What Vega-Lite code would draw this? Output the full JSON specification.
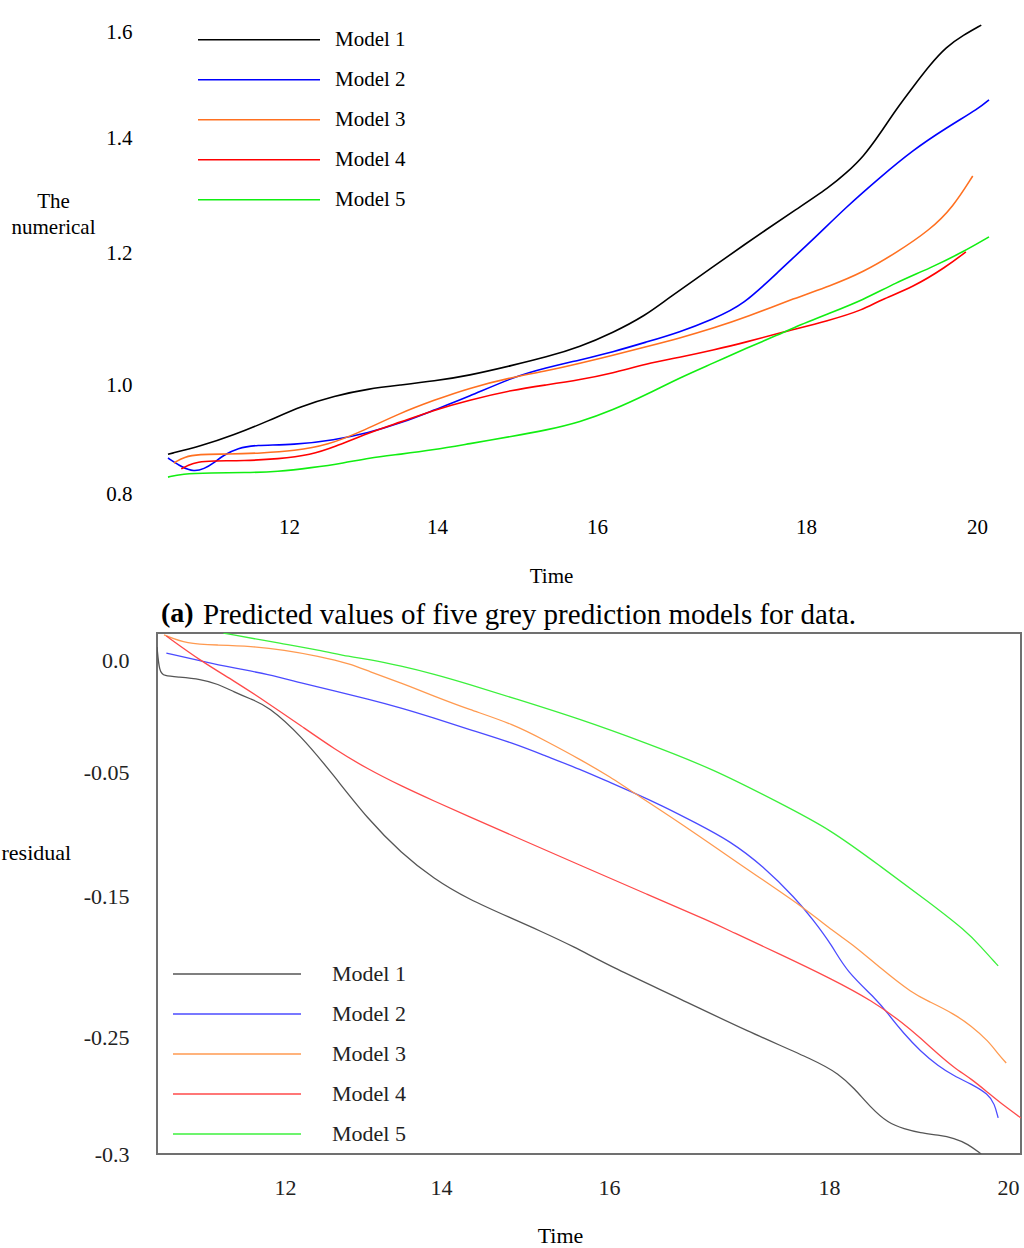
{
  "$schema": "https://vega.github.io/schema/vega-lite/v6.json",
  "background": "white",
  "padding": {"left": 0, "top": 7, "right": 0, "bottom": 0},
  "spacing": -28,
  "resolve": {"scale": {"color": "independent"}, "legend": {"color": "independent"}},
  "config": {
    "view": {"stroke": null},
    "font": "Liberation Serif",
    "axis": {"labelFont": "Liberation Serif", "titleFont": "Liberation Serif", "labelColor": "#000", "titleColor": "#000", "titleFontWeight": "normal", "labelFontSize": 21, "titleFontSize": 21, "grid": false, "domain": false, "ticks": false, "tickSize": 0},
    "legend": {"labelFont": "Liberation Serif", "labelColor": "#000"},
    "title": {"font": "Liberation Serif", "color": "#000"}
  },
  "datasets": {
    "a": [
      {"m":"Model 1","t":10.36,"v":0.873},{"m":"Model 1","t":10.81,"v":0.888},{"m":"Model 1","t":11.25,"v":0.908},{"m":"Model 1","t":11.72,"v":0.934},{"m":"Model 1","t":12.16,"v":0.961},{"m":"Model 1","t":12.61,"v":0.980},{"m":"Model 1","t":13.07,"v":0.993},{"m":"Model 1","t":13.51,"v":1.000},{"m":"Model 1","t":13.96,"v":1.006},{"m":"Model 1","t":14.39,"v":1.014},{"m":"Model 1","t":14.95,"v":1.030},{"m":"Model 1","t":15.36,"v":1.042},{"m":"Model 1","t":15.79,"v":1.058},{"m":"Model 1","t":16.15,"v":1.079},{"m":"Model 1","t":16.47,"v":1.106},{"m":"Model 1","t":16.66,"v":1.129},{"m":"Model 1","t":17.11,"v":1.179},{"m":"Model 1","t":17.43,"v":1.217},{"m":"Model 1","t":17.59,"v":1.237},{"m":"Model 1","t":17.90,"v":1.275},{"m":"Model 1","t":18.28,"v":1.315},{"m":"Model 1","t":18.47,"v":1.339},{"m":"Model 1","t":18.67,"v":1.367},{"m":"Model 1","t":18.87,"v":1.409},{"m":"Model 1","t":19.05,"v":1.453},{"m":"Model 1","t":19.25,"v":1.496},{"m":"Model 1","t":19.45,"v":1.538},{"m":"Model 1","t":19.64,"v":1.572},{"m":"Model 1","t":19.84,"v":1.594},{"m":"Model 1","t":20.05,"v":1.613},
      {"m":"Model 2","t":10.36,"v":0.866},{"m":"Model 2","t":10.55,"v":0.849},{"m":"Model 2","t":10.71,"v":0.841},{"m":"Model 2","t":10.85,"v":0.846},{"m":"Model 2","t":10.98,"v":0.857},{"m":"Model 2","t":11.12,"v":0.872},{"m":"Model 2","t":11.31,"v":0.884},{"m":"Model 2","t":11.53,"v":0.890},{"m":"Model 2","t":12.07,"v":0.890},{"m":"Model 2","t":12.61,"v":0.899},{"m":"Model 2","t":13.07,"v":0.912},{"m":"Model 2","t":13.51,"v":0.930},{"m":"Model 2","t":13.96,"v":0.954},{"m":"Model 2","t":14.39,"v":0.978},{"m":"Model 2","t":14.95,"v":1.012},{"m":"Model 2","t":15.36,"v":1.026},{"m":"Model 2","t":15.79,"v":1.038},{"m":"Model 2","t":16.15,"v":1.050},{"m":"Model 2","t":16.47,"v":1.065},{"m":"Model 2","t":16.79,"v":1.080},{"m":"Model 2","t":17.11,"v":1.100},{"m":"Model 2","t":17.40,"v":1.121},{"m":"Model 2","t":17.75,"v":1.174},{"m":"Model 2","t":18.08,"v":1.223},{"m":"Model 2","t":18.47,"v":1.280},{"m":"Model 2","t":18.87,"v":1.332},{"m":"Model 2","t":19.25,"v":1.379},{"m":"Model 2","t":19.64,"v":1.419},{"m":"Model 2","t":20.03,"v":1.457},{"m":"Model 2","t":20.14,"v":1.472},
      {"m":"Model 3","t":10.44,"v":0.857},{"m":"Model 3","t":10.58,"v":0.868},{"m":"Model 3","t":10.77,"v":0.873},{"m":"Model 3","t":11.17,"v":0.873},{"m":"Model 3","t":11.62,"v":0.875},{"m":"Model 3","t":12.07,"v":0.879},{"m":"Model 3","t":12.53,"v":0.890},{"m":"Model 3","t":12.97,"v":0.914},{"m":"Model 3","t":13.51,"v":0.949},{"m":"Model 3","t":13.96,"v":0.972},{"m":"Model 3","t":14.39,"v":0.994},{"m":"Model 3","t":14.95,"v":1.012},{"m":"Model 3","t":15.36,"v":1.021},{"m":"Model 3","t":15.79,"v":1.033},{"m":"Model 3","t":16.15,"v":1.045},{"m":"Model 3","t":16.47,"v":1.058},{"m":"Model 3","t":16.79,"v":1.071},{"m":"Model 3","t":17.11,"v":1.086},{"m":"Model 3","t":17.43,"v":1.103},{"m":"Model 3","t":17.90,"v":1.132},{"m":"Model 3","t":18.28,"v":1.150},{"m":"Model 3","t":18.67,"v":1.171},{"m":"Model 3","t":19.05,"v":1.200},{"m":"Model 3","t":19.45,"v":1.240},{"m":"Model 3","t":19.72,"v":1.280},{"m":"Model 3","t":19.95,"v":1.334},
      {"m":"Model 4","t":10.54,"v":0.846},{"m":"Model 4","t":10.63,"v":0.853},{"m":"Model 4","t":10.77,"v":0.859},{"m":"Model 4","t":10.94,"v":0.861},{"m":"Model 4","t":11.39,"v":0.861},{"m":"Model 4","t":11.85,"v":0.864},{"m":"Model 4","t":12.30,"v":0.872},{"m":"Model 4","t":12.61,"v":0.886},{"m":"Model 4","t":13.07,"v":0.912},{"m":"Model 4","t":13.51,"v":0.932},{"m":"Model 4","t":13.96,"v":0.954},{"m":"Model 4","t":14.39,"v":0.972},{"m":"Model 4","t":14.95,"v":0.991},{"m":"Model 4","t":15.36,"v":1.000},{"m":"Model 4","t":15.79,"v":1.008},{"m":"Model 4","t":16.15,"v":1.018},{"m":"Model 4","t":16.47,"v":1.032},{"m":"Model 4","t":16.79,"v":1.042},{"m":"Model 4","t":17.11,"v":1.053},{"m":"Model 4","t":17.43,"v":1.065},{"m":"Model 4","t":17.75,"v":1.079},{"m":"Model 4","t":18.28,"v":1.098},{"m":"Model 4","t":18.67,"v":1.114},{"m":"Model 4","t":18.87,"v":1.129},{"m":"Model 4","t":19.25,"v":1.148},{"m":"Model 4","t":19.64,"v":1.179},{"m":"Model 4","t":19.87,"v":1.202},
      {"m":"Model 5","t":10.36,"v":0.831},{"m":"Model 5","t":10.54,"v":0.837},{"m":"Model 5","t":10.94,"v":0.839},{"m":"Model 5","t":11.39,"v":0.839},{"m":"Model 5","t":11.85,"v":0.841},{"m":"Model 5","t":12.30,"v":0.848},{"m":"Model 5","t":12.75,"v":0.857},{"m":"Model 5","t":13.07,"v":0.866},{"m":"Model 5","t":13.51,"v":0.873},{"m":"Model 5","t":13.96,"v":0.881},{"m":"Model 5","t":14.39,"v":0.892},{"m":"Model 5","t":14.95,"v":0.906},{"m":"Model 5","t":15.36,"v":0.917},{"m":"Model 5","t":15.79,"v":0.932},{"m":"Model 5","t":16.15,"v":0.954},{"m":"Model 5","t":16.47,"v":0.982},{"m":"Model 5","t":16.79,"v":1.011},{"m":"Model 5","t":17.11,"v":1.033},{"m":"Model 5","t":17.43,"v":1.056},{"m":"Model 5","t":17.75,"v":1.077},{"m":"Model 5","t":17.85,"v":1.085},{"m":"Model 5","t":18.28,"v":1.109},{"m":"Model 5","t":18.67,"v":1.129},{"m":"Model 5","t":19.05,"v":1.155},{"m":"Model 5","t":19.45,"v":1.177},{"m":"Model 5","t":19.84,"v":1.202},{"m":"Model 5","t":20.14,"v":1.228}
    ],
    "b": [
      {"m":"Model 1","t":10.36,"v":0.0058},{"m":"Model 1","t":10.39,"v":-0.0054},{"m":"Model 1","t":10.45,"v":-0.0071},{"m":"Model 1","t":10.63,"v":-0.0076},{"m":"Model 1","t":10.92,"v":-0.0085},{"m":"Model 1","t":11.14,"v":-0.0107},{"m":"Model 1","t":11.35,"v":-0.0143},{"m":"Model 1","t":11.56,"v":-0.0174},{"m":"Model 1","t":11.78,"v":-0.0205},{"m":"Model 1","t":12.21,"v":-0.0339},{"m":"Model 1","t":12.63,"v":-0.0532},{"m":"Model 1","t":13.06,"v":-0.0879},{"m":"Model 1","t":13.49,"v":-0.1153},{"m":"Model 1","t":13.91,"v":-0.1363},{"m":"Model 1","t":14.32,"v":-0.1521},{"m":"Model 1","t":14.86,"v":-0.1663},{"m":"Model 1","t":15.18,"v":-0.1748},{"m":"Model 1","t":15.57,"v":-0.1855},{"m":"Model 1","t":16.04,"v":-0.2010},{"m":"Model 1","t":16.65,"v":-0.2230},{"m":"Model 1","t":17.25,"v":-0.2457},{"m":"Model 1","t":17.89,"v":-0.2603},{"m":"Model 1","t":18.11,"v":-0.2658},{"m":"Model 1","t":18.28,"v":-0.2718},{"m":"Model 1","t":18.47,"v":-0.2803},{"m":"Model 1","t":18.66,"v":-0.2868},{"m":"Model 1","t":18.84,"v":-0.2893},{"m":"Model 1","t":19.02,"v":-0.2910},{"m":"Model 1","t":19.22,"v":-0.2919},{"m":"Model 1","t":19.40,"v":-0.2932},{"m":"Model 1","t":19.55,"v":-0.2957},{"m":"Model 1","t":19.70,"v":-0.3000},
      {"m":"Model 2","t":10.48,"v":0.0031},{"m":"Model 2","t":10.92,"v":-0.0004},{"m":"Model 2","t":11.35,"v":-0.0036},{"m":"Model 2","t":11.78,"v":-0.0063},{"m":"Model 2","t":12.21,"v":-0.0103},{"m":"Model 2","t":12.63,"v":-0.0138},{"m":"Model 2","t":13.06,"v":-0.0174},{"m":"Model 2","t":13.49,"v":-0.0214},{"m":"Model 2","t":13.91,"v":-0.0259},{"m":"Model 2","t":14.32,"v":-0.0308},{"m":"Model 2","t":14.86,"v":-0.0371},{"m":"Model 2","t":15.25,"v":-0.0429},{"m":"Model 2","t":15.65,"v":-0.0487},{"m":"Model 2","t":16.04,"v":-0.0597},{"m":"Model 2","t":16.19,"v":-0.0653},{"m":"Model 2","t":16.49,"v":-0.0774},{"m":"Model 2","t":16.79,"v":-0.0911},{"m":"Model 2","t":17.10,"v":-0.1056},{"m":"Model 2","t":17.40,"v":-0.1258},{"m":"Model 2","t":17.70,"v":-0.1521},{"m":"Model 2","t":17.85,"v":-0.1663},{"m":"Model 2","t":18.04,"v":-0.1855},{"m":"Model 2","t":18.19,"v":-0.2032},{"m":"Model 2","t":18.55,"v":-0.2245},{"m":"Model 2","t":18.66,"v":-0.2337},{"m":"Model 2","t":18.84,"v":-0.2479},{"m":"Model 2","t":19.02,"v":-0.2560},{"m":"Model 2","t":19.22,"v":-0.2624},{"m":"Model 2","t":19.40,"v":-0.2667},{"m":"Model 2","t":19.59,"v":-0.2701},{"m":"Model 2","t":19.78,"v":-0.2744},{"m":"Model 2","t":19.85,"v":-0.2786},{"m":"Model 2","t":19.89,"v":-0.2846},
      {"m":"Model 3","t":10.45,"v":0.0112},{"m":"Model 3","t":10.74,"v":0.0071},{"m":"Model 3","t":11.14,"v":0.0067},{"m":"Model 3","t":11.56,"v":0.0062},{"m":"Model 3","t":11.99,"v":0.0045},{"m":"Model 3","t":12.42,"v":0.0018},{"m":"Model 3","t":12.85,"v":-0.0018},{"m":"Model 3","t":13.06,"v":-0.0049},{"m":"Model 3","t":13.49,"v":-0.0103},{"m":"Model 3","t":13.91,"v":-0.0161},{"m":"Model 3","t":14.32,"v":-0.0219},{"m":"Model 3","t":14.86,"v":-0.0286},{"m":"Model 3","t":15.25,"v":-0.0362},{"m":"Model 3","t":15.65,"v":-0.0442},{"m":"Model 3","t":16.04,"v":-0.0556},{"m":"Model 3","t":16.13,"v":-0.0613},{"m":"Model 3","t":16.65,"v":-0.0911},{"m":"Model 3","t":17.25,"v":-0.1282},{"m":"Model 3","t":17.79,"v":-0.1592},{"m":"Model 3","t":18.04,"v":-0.1748},{"m":"Model 3","t":18.29,"v":-0.1855},{"m":"Model 3","t":18.57,"v":-0.2010},{"m":"Model 3","t":18.94,"v":-0.2195},{"m":"Model 3","t":19.11,"v":-0.2245},{"m":"Model 3","t":19.40,"v":-0.2337},{"m":"Model 3","t":19.59,"v":-0.2422},{"m":"Model 3","t":19.78,"v":-0.2517},{"m":"Model 3","t":19.89,"v":-0.2573},{"m":"Model 3","t":19.98,"v":-0.2611},
      {"m":"Model 4","t":10.48,"v":0.0107},{"m":"Model 4","t":10.92,"v":-0.0004},{"m":"Model 4","t":11.35,"v":-0.0094},{"m":"Model 4","t":11.78,"v":-0.0192},{"m":"Model 4","t":12.21,"v":-0.0295},{"m":"Model 4","t":12.63,"v":-0.0397},{"m":"Model 4","t":13.06,"v":-0.0487},{"m":"Model 4","t":13.49,"v":-0.0613},{"m":"Model 4","t":13.91,"v":-0.0734},{"m":"Model 4","t":14.32,"v":-0.0855},{"m":"Model 4","t":14.86,"v":-0.1016},{"m":"Model 4","t":15.65,"v":-0.1250},{"m":"Model 4","t":16.34,"v":-0.1484},{"m":"Model 4","t":16.95,"v":-0.1691},{"m":"Model 4","t":17.10,"v":-0.1748},{"m":"Model 4","t":17.55,"v":-0.1911},{"m":"Model 4","t":18.01,"v":-0.2082},{"m":"Model 4","t":18.49,"v":-0.2245},{"m":"Model 4","t":18.84,"v":-0.2408},{"m":"Model 4","t":19.02,"v":-0.2504},{"m":"Model 4","t":19.22,"v":-0.2573},{"m":"Model 4","t":19.40,"v":-0.2632},{"m":"Model 4","t":19.59,"v":-0.2679},{"m":"Model 4","t":19.78,"v":-0.2739},{"m":"Model 4","t":19.96,"v":-0.2795},{"m":"Model 4","t":20.145,"v":-0.2846},
      {"m":"Model 5","t":11.21,"v":0.0120},{"m":"Model 5","t":11.99,"v":0.0071},{"m":"Model 5","t":12.42,"v":0.0045},{"m":"Model 5","t":12.85,"v":0.0013},{"m":"Model 5","t":13.06,"v":0.0004},{"m":"Model 5","t":13.49,"v":-0.0027},{"m":"Model 5","t":13.91,"v":-0.0063},{"m":"Model 5","t":14.32,"v":-0.0107},{"m":"Model 5","t":14.86,"v":-0.0170},{"m":"Model 5","t":15.65,"v":-0.0263},{"m":"Model 5","t":16.34,"v":-0.0371},{"m":"Model 5","t":16.95,"v":-0.0487},{"m":"Model 5","t":17.55,"v":-0.0750},{"m":"Model 5","t":18.01,"v":-0.0960},{"m":"Model 5","t":18.57,"v":-0.1258},{"m":"Model 5","t":19.13,"v":-0.1550},{"m":"Model 5","t":19.53,"v":-0.1748},{"m":"Model 5","t":19.69,"v":-0.1855},{"m":"Model 5","t":19.89,"v":-0.1996}
    ]
  },
  "vconcat": [
    {
      "width": 832,
      "height": 487,
      "title": {"text": "(a)", "orient": "bottom", "anchor": "start", "frame": "group", "dx": 4, "offset": 36, "baseline": "alphabetic", "fontSize": 28, "fontWeight": "bold"},
      "layer": [
        {
          "data": {"name": "a"},
          "mark": {"type": "line", "interpolate": "basis", "strokeWidth": 1.6},
          "encoding": {
            "x": {"field": "t", "type": "quantitative",
              "scale": {"domain": [10.36, 12, 14, 16, 18, 20, 20.14], "range": [11, 132, 280, 440, 649, 820, 832], "nice": false, "zero": false},
              "axis": {"values": [12, 14, 16, 18, 20], "format": "d", "labelPadding": 33, "labelBaseline": "middle", "title": "Time", "titleX": 394, "titleY": 88, "titleBaseline": "alphabetic", "titleAlign": "center"}},
            "y": {"field": "v", "type": "quantitative",
              "scale": {"domain": [0.8, 1.0, 1.2, 1.4, 1.6, 1.647], "range": [487, 378, 246, 131, 25, 0], "nice": false, "zero": false},
              "axis": {"values": [0.8, 1.0, 1.2, 1.4, 1.6], "format": ".1f", "labelPadding": 25, "title": ["The", "numerical"], "titleAngle": 0, "titleAlign": "center", "titleBaseline": "alphabetic", "titleX": -104, "titleY": 200, "titleLineHeight": 26}},
            "color": {"field": "m", "type": "nominal",
              "scale": {"domain": ["Model 1", "Model 2", "Model 3", "Model 4", "Model 5"], "range": ["#000000", "#0000ff", "#ff7020", "#ff0000", "#11ee11"]},
              "legend": {"orient": "none", "legendX": 40, "legendY": 13, "title": null, "symbolType": "stroke", "symbolSize": 14884, "symbolStrokeWidth": 1.5, "clipHeight": 39.5, "rowPadding": 0, "padding": 0, "labelOffset": 14, "labelFontSize": 21}}
          }
        },
        {"mark": {"type": "rule", "color": "#333", "strokeWidth": 1}, "encoding": {"x": {"datum": 10.36}}},
        {"mark": {"type": "rule", "color": "#333", "strokeWidth": 1}, "encoding": {"x": {"datum": 20.14}}},
        {"mark": {"type": "rule", "color": "#333", "strokeWidth": 1}, "encoding": {"y": {"datum": 1.647}, "x": {"datum": 10.36}, "x2": {"datum": 20.14}}},
        {"mark": {"type": "rule", "color": "#333", "strokeWidth": 1}, "encoding": {"y": {"datum": 0.8}, "x": {"datum": 10.36}, "x2": {"datum": 20.14}}}
      ]
    },
    {
      "width": 864,
      "height": 521,
      "view": {"stroke": "#707070", "strokeWidth": 2},
      "title": {"text": "Predicted values of five grey prediction models for data.", "orient": "top", "anchor": "start", "frame": "group", "dx": 46, "offset": -20, "baseline": "alphabetic", "fontSize": 29, "fontWeight": "normal"},
      "data": {"name": "b"},
      "mark": {"type": "line", "interpolate": "basis", "strokeWidth": 1.3, "clip": true},
      "encoding": {
        "x": {"field": "t", "type": "quantitative",
          "scale": {"domain": [10.36, 12, 14, 16, 18, 20, 20.145], "range": [0, 128, 284, 452, 672, 851, 864], "nice": false, "zero": false},
          "axis": {"values": [12, 14, 16, 18, 20], "format": "d", "labelPadding": 33, "labelBaseline": "middle", "labelFontSize": 22, "labelColor": "#222", "title": "Time", "titleFontSize": 22, "titleX": 403, "titleY": 88, "titleBaseline": "alphabetic", "titleAlign": "center"}},
        "y": {"field": "v", "type": "quantitative",
          "scale": {"domain": [-0.3, -0.25, -0.15, -0.05, 0, 0.01205], "range": [521, 404, 263, 139, 27, 0], "nice": false, "zero": false},
          "axis": {"values": [0, -0.05, -0.15, -0.25, -0.3], "labelExpr": "datum.value === 0 ? '0.0' : toString(datum.value)", "labelPadding": 28, "labelFontSize": 22, "labelColor": "#222", "title": "residual", "titleFontSize": 22, "titleAngle": 0, "titleAlign": "left", "titleBaseline": "alphabetic", "titleX": -156, "titleY": 226}},
        "color": {"field": "m", "type": "nominal",
          "scale": {"domain": ["Model 1", "Model 2", "Model 3", "Model 4", "Model 5"], "range": ["#555555", "#4b4bff", "#ff9a50", "#ff4a4a", "#3cf03c"]},
          "legend": {"orient": "none", "legendX": 15, "legendY": 321, "title": null, "symbolType": "stroke", "symbolSize": 16384, "symbolStrokeWidth": 1.6, "clipHeight": 40, "rowPadding": 0, "padding": 0, "labelOffset": 30, "labelFontSize": 22, "labelColor": "#222"}}
      }
    }
  ]
}
